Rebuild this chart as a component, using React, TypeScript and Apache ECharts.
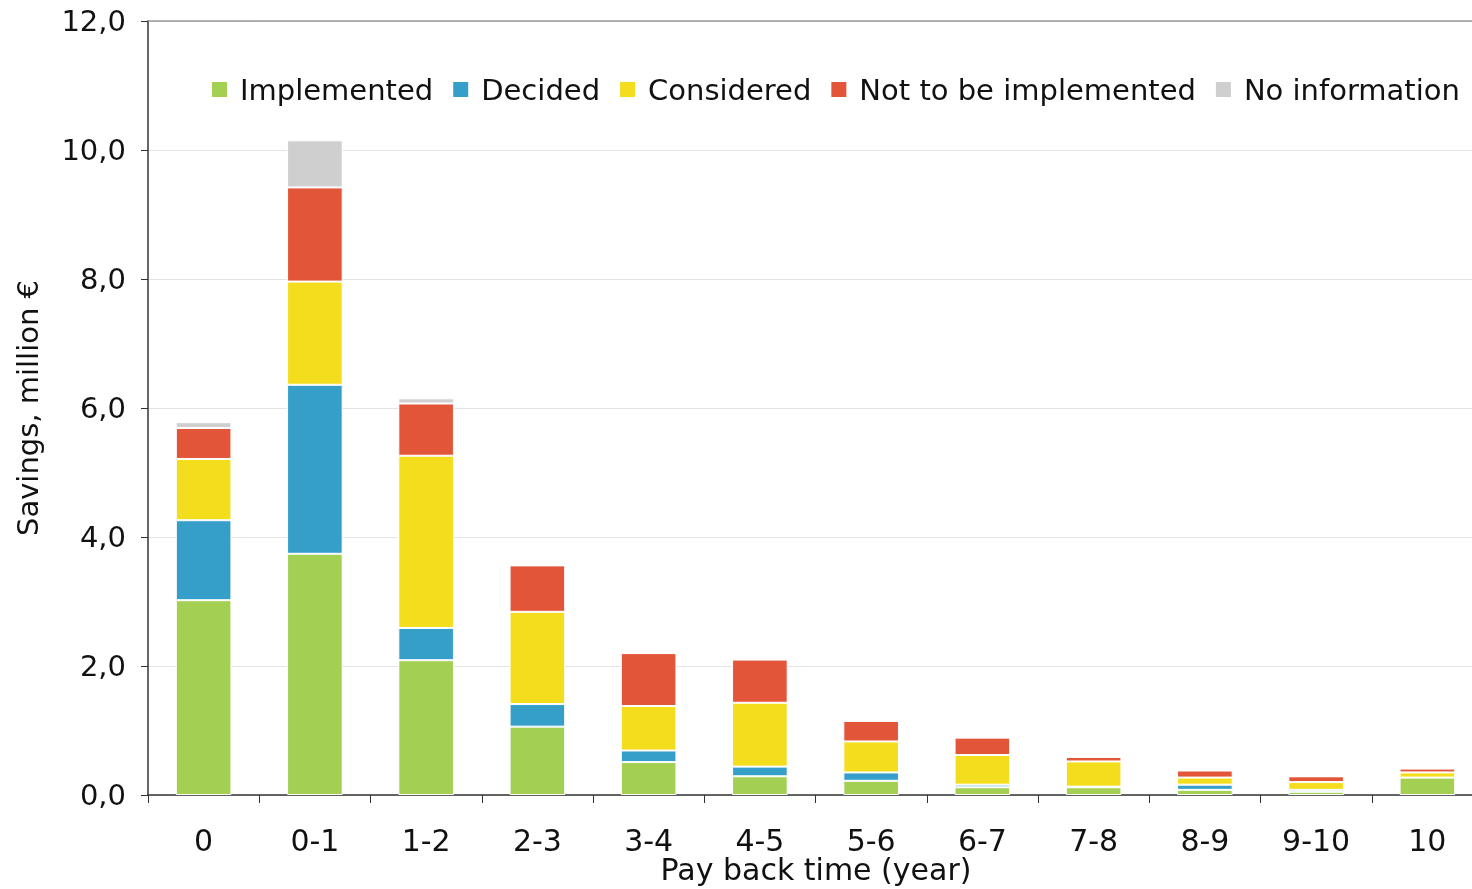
import React, { useEffect, useRef } from "react";
import * as echarts from "echarts";

const categories = ["0", "0-1", "1-2", "2-3", "3-4", "4-5", "5-6", "6-7", "7-8", "8-9", "9-10", "10"];
const implemented = [3.02, 3.74, 2.09, 1.06, 0.51, 0.29, 0.22, 0.12, 0.12, 0.08, 0.05, 0.27];
const decided = [1.24, 2.62, 0.5, 0.35, 0.18, 0.15, 0.13, 0.04, 0.01, 0.08, 0.03, 0.0];
const considered = [0.95, 1.6, 2.67, 1.43, 0.69, 0.99, 0.48, 0.46, 0.39, 0.11, 0.12, 0.08];
const notImplemented = [0.48, 1.46, 0.81, 0.72, 0.82, 0.67, 0.32, 0.27, 0.07, 0.11, 0.09, 0.06];
const noInformation = [0.09, 0.73, 0.08, 0.0, 0.0, 0.0, 0.0, 0.0, 0.0, 0.0, 0.0, 0.0];

const seriesDefs = [
  { name: "Implemented", data: implemented, color: "#A3CF53" },
  { name: "Decided", data: decided, color: "#369FC9" },
  { name: "Considered", data: considered, color: "#F4DD1D" },
  { name: "Not to be implemented", data: notImplemented, color: "#E25538" },
  { name: "No information", data: noInformation, color: "#CFCFCF" },
];

const xAxisTitle = "Pay back time (year)";
const yAxisTitle = "Savings, million €";

const FONT = "DejaVu Sans, Verdana, sans-serif";

export default function App() {
  const ref = useRef<HTMLDivElement>(null);
  useEffect(() => {
    if (!ref.current) return;
    const chart = echarts.init(ref.current, undefined, { renderer: "svg" });
    chart.setOption({
      animation: false,
      textStyle: { fontFamily: FONT },
      grid: {
        left: 148,
        right: -11,
        top: 21,
        bottom: 94,
        containLabel: false,
        outerBoundsMode: "none",
      },
      legend: {
        left: 205,
        top: 70,
        itemWidth: 17,
        itemHeight: 17,
        itemGap: 18,
        icon: "rect",
        textStyle: { fontSize: 29, color: "#111", fontFamily: FONT, padding: [0, 0, 0, 7] },
        data: seriesDefs.map((s) => s.name),
      },
      graphic: [
        {
          type: "text",
          x: 816,
          y: 869,
          style: {
            text: xAxisTitle,
            fontSize: 30,
            fontFamily: FONT,
            fill: "#111",
            align: "center",
            verticalAlign: "middle",
          },
        },
      ],
      xAxis: [
        {
          type: "category",
          data: categories,
          axisLine: { lineStyle: { color: "#333", width: 1.5 } },
          axisTick: { show: true, length: 8, alignWithLabel: false, lineStyle: { color: "#333" } },
          axisLabel: { fontSize: 30, color: "#111", margin: 30, fontFamily: FONT },
        },
        {
          type: "category",
          position: "top",
          data: categories,
          axisLine: { show: true, lineStyle: { color: "#999", width: 1.5 } },
          axisTick: { show: false },
          axisLabel: { show: false },
        },
      ],
      yAxis: {
        type: "value",
        min: 0,
        max: 12,
        interval: 2,
        axisLine: { show: true, lineStyle: { color: "#333", width: 1.5 } },
        axisTick: { show: true, length: 7, lineStyle: { color: "#333" } },
        axisLabel: {
          fontSize: 29,
          color: "#111",
          margin: 22,
          fontFamily: FONT,
          formatter: (v: number) => v.toFixed(1).replace(".", ","),
        },
        splitLine: { show: true, lineStyle: { color: "#e4e4e4", width: 1 } },
        name: yAxisTitle,
        nameLocation: "middle",
        nameGap: 106,
        nameTextStyle: { fontSize: 29, color: "#111", fontFamily: FONT },
      },
      series: seriesDefs.map((s) => ({
        name: s.name,
        type: "bar",
        stack: "total",
        data: s.data,
        barWidth: "50%",
        itemStyle: { color: s.color, borderColor: "#fff", borderWidth: 1 },
      })),
    });
    return () => chart.dispose();
  }, []);
  return (
    <div
      ref={ref}
      style={{ position: "fixed", left: 0, top: 0, width: 1472, height: 889 }}
    />
  );
}
